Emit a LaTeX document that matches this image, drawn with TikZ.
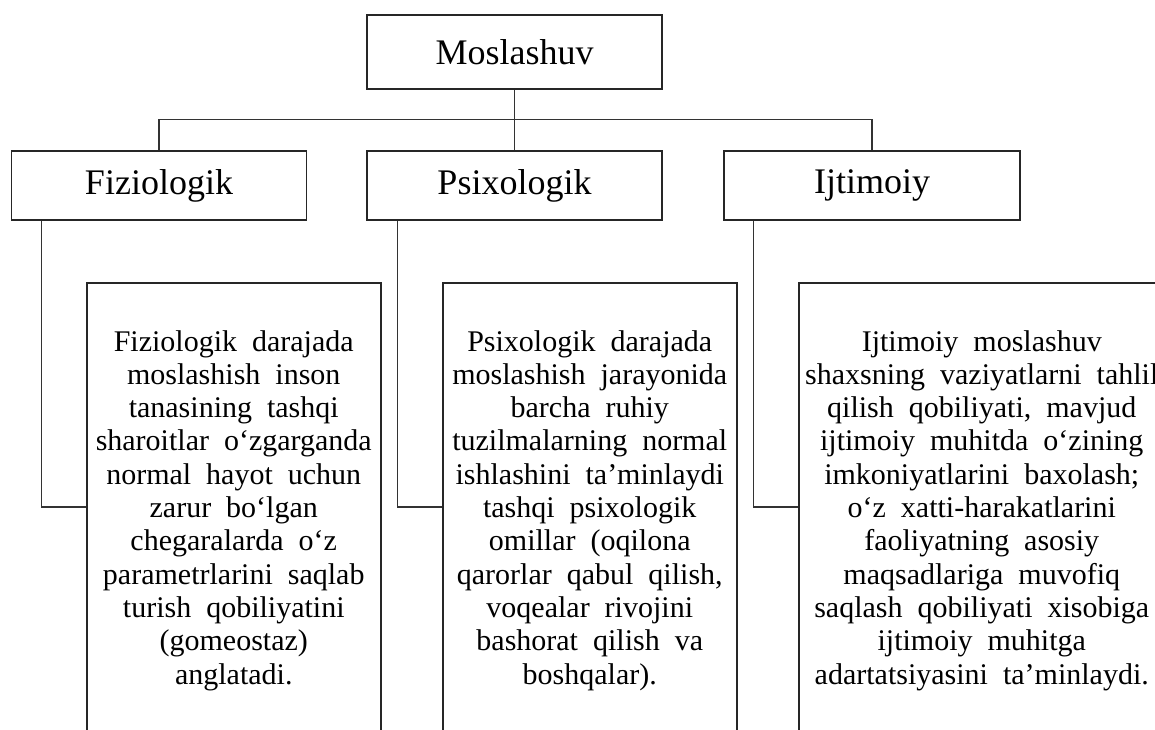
\documentclass[tikz,border=0pt]{standalone}
\usepackage{fontspec}
\setmainfont{Liberation Serif}
\usepackage{tikz}
\usetikzlibrary{positioning}

\newcommand{\widegaps}{\spaceskip=0.5em\relax}

\begin{document}
\begin{tikzpicture}[
    x=1pt, y=-1pt,
    headbox/.style={rectangle, draw=black!85, line width=1.5pt, minimum width=295pt, minimum height=69pt, font=\fontsize{36}{40}\selectfont},
    textbox/.style={rectangle, draw=black!85, line width=1.5pt, anchor=north west, align=center, inner xsep=3pt, inner ysep=47.5pt, font=\fontsize{30}{33.3}\selectfont},
    link/.style={draw=black!80, line width=1.5pt}
]
    \useasboundingbox (0,0) rectangle (1155,729);
    \clip (0,0) rectangle (1155,729);

    % Nodes
    \node[headbox, minimum height=74pt] (moslashuv) at (514.5,52) {Moslashuv};
    \node[headbox] (fiziologik) at (159,185.5) {Fiziologik};
    \node[headbox] (psixologik) at (514.5,185.5) {Psixologik};
    \node[headbox, minimum width=296pt] (ijtimoiy) at (872,185.5) {Ijtimoiy};

    \node[textbox, text width=288pt] (fiztext) at (86,282) {\widegaps Fiziologik darajada\\moslashish inson\\tanasining tashqi\\sharoitlar o‘zgarganda\\normal hayot uchun\\zarur bo‘lgan\\chegaralarda o‘z\\parametrlarini saqlab\\turish qobiliyatini\\(gomeostaz)\\anglatadi.};
    \node[textbox, text width=288pt] (psitext) at (442,282) {\widegaps Psixologik darajada\\moslashish jarayonida\\barcha ruhiy\\tuzilmalarning normal\\ishlashini ta’minlaydi\\tashqi psixologik\\omillar (oqilona\\qarorlar qabul qilish,\\voqealar rivojini\\bashorat qilish va\\boshqalar).};
    \node[textbox, text width=360pt] (ijttext) at (798,282) {\widegaps Ijtimoiy moslashuv\\shaxsning vaziyatlarni tahlil\\qilish qobiliyati, mavjud\\ijtimoiy muhitda o‘zining\\imkoniyatlarini baxolash;\\o‘z xatti-harakatlarini\\faoliyatning asosiy\\maqsadlariga muvofiq\\saqlash qobiliyati xisobiga\\ijtimoiy muhitga\\adartatsiyasini ta’minlaydi.};

    % Lines
    \draw[link] (moslashuv.south) -- (psixologik.north);
    \draw[link] (fiziologik.north) -- ++(0,-31) -| (ijtimoiy.north);
    \draw[link] ([xshift=30.5pt]fiziologik.south west) |- ([yshift=-225pt]fiztext.north west);
    \draw[link] ([xshift=31pt]psixologik.south west) |- ([yshift=-225pt]psitext.north west);
    \draw[link] ([xshift=30pt]ijtimoiy.south west) |- ([yshift=-225pt]ijttext.north west);
\end{tikzpicture}
\end{document}
